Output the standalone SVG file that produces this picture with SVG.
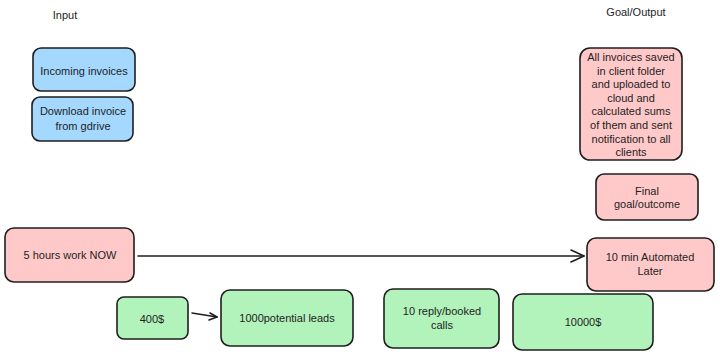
<svg xmlns="http://www.w3.org/2000/svg" width="720" height="357" viewBox="0 0 720 357">
<style>
.t{font-family:"Liberation Sans",Arial,sans-serif;font-size:11px;fill:#1e1e1e;text-anchor:middle}
.b{stroke:#1e1e1e;stroke-width:1.6;stroke-linejoin:round}
.blue{fill:#a5d8ff}.pink{fill:#ffc9c9}.green{fill:#b2f2bb}
.c{stroke:#1e1e1e;stroke-width:1.6;fill:none;stroke-linecap:round;stroke-linejoin:round}
</style>
<rect width="720" height="357" fill="#ffffff"/>
<text class="t" x="65" y="19">Input</text>
<text class="t" x="636" y="16">Goal/Output</text>
<g id="incoming"><rect class="b blue" x="33" y="48" width="102" height="43" rx="8"/><text class="t" x="84" y="75">Incoming invoices</text></g>
<g id="download"><rect class="b blue" x="32" y="97" width="101" height="44" rx="8"/><text class="t" x="83" y="115">Download invoice</text><text class="t" x="83" y="130">from gdrive</text></g>
<g id="allinvoices"><rect class="b pink" x="580" y="48" width="102" height="112" rx="10"/>
<text class="t" x="631" y="61">All invoices saved</text>
<text class="t" x="631" y="74.6">in client folder</text>
<text class="t" x="631" y="88.2">and uploaded to</text>
<text class="t" x="631" y="101.8">cloud and</text>
<text class="t" x="631" y="115.4">calculated sums</text>
<text class="t" x="631" y="129">of them and sent</text>
<text class="t" x="631" y="142.6">notification to all</text>
<text class="t" x="631" y="156.2">clients</text></g>
<g id="final"><rect class="b pink" x="596" y="174" width="102" height="46" rx="8"/><text class="t" x="647" y="195">Final</text><text class="t" x="647" y="208">goal/outcome</text></g>
<g id="now"><rect class="b pink" x="5" y="228" width="129" height="54" rx="9"/><text class="t" x="70" y="259">5 hours work NOW</text></g>
<g id="later"><rect class="b pink" x="587" y="238" width="127" height="53" rx="9"/><text class="t" x="650" y="261">10 min Automated</text><text class="t" x="650" y="275">Later</text></g>
<g id="cost"><rect class="b green" x="117" y="297" width="71" height="42" rx="7"/><text class="t" x="152" y="323">400$</text></g>
<g id="leads"><rect class="b green" x="221" y="290" width="132" height="56" rx="9"/><text class="t" x="287" y="322">1000potential leads</text></g>
<g id="calls"><rect class="b green" x="384" y="289" width="115" height="59" rx="9"/><text class="t" x="442" y="315">10 reply/booked</text><text class="t" x="442" y="329">calls</text></g>
<g id="revenue"><rect class="b green" x="513" y="294" width="140" height="56" rx="9"/><text class="t" x="583" y="326">10000$</text></g>
<g id="connectors">
<path class="c" d="M138 256 L584 256"/>
<path class="c" d="M571 250 L584 256 L571 262"/>
<path class="c" d="M192 313 L217 317"/>
<path class="c" d="M210 313 L217 317 L209 320"/>
</g>
</svg>
